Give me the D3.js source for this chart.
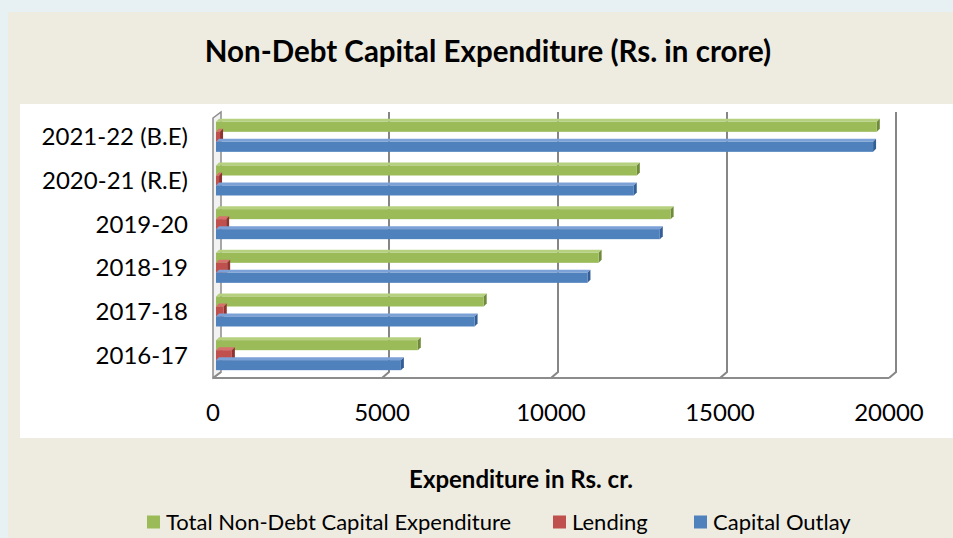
<html>
<head>
<script src="https://d3js.org/d3.v7.min.js"></script>
<style>
body { margin: 0; background: #e6f0f2; }
svg { display: block; font-family: Lato, "Open Sans", sans-serif; }
</style>
</head>
<body>
<div id="chart"></div>
<script>
// data (Rs. crore)
var years = ["2021-22 (B.E)", "2020-21 (R.E)", "2019-20", "2018-19", "2017-18", "2016-17"]
var totalExp = [19550, 12450, 13450, 11320, 7920, 5970]
var lending = [120, 90, 300, 330, 230, 470]
var capOutlay = [19440, 12360, 13130, 10990, 7650, 5470]
var xTicks = [0, 5000, 10000, 15000, 20000]

var seriesNames = ["Total Non-Debt Capital Expenditure", "Lending", "Capital Outlay"]
var seriesVals = [totalExp, lending, capOutlay]
var colors = ["#9bbb59", "#c0504d", "#4f81bd"]
var tops = ["#b5d07e", "#d6716e", "#7ba1d6"]
var sides = ["#6f8a3a", "#8f3330", "#345f96"]

var W = 953, H = 538
var depth = 3

var svg = d3.select("#chart").append("svg")
	.attr("width", W)
	.attr("height", H)

// page background and panels
svg.append("rect").attr("width", W).attr("height", H).attr("fill", "#e7f0f3")
svg.append("rect").attr("x", 8).attr("y", 12).attr("width", W - 8).attr("height", H - 12).attr("fill", "#eeece1")
svg.append("rect").attr("x", 20).attr("y", 104).attr("width", W - 20).attr("height", 334).attr("fill", "#fff")

var x = d3.scaleLinear().domain([0, 20000]).range([216, 892])
var y = d3.scaleBand().domain(years).range([115, 377])
var groupH = 30
var yIn = d3.scaleBand().domain(seriesNames)
	.range([(y.bandwidth() - groupH) / 2, (y.bandwidth() + groupH) / 2])

var backTop = 112, backBot = 372, floorY = 378

// left wall
svg.append("path")
	.attr("d", "M213," + floorY + " L213,118 L221," + backTop + " L221," + backBot + " Z")
	.attr("fill", "#f2f2f2")
	.attr("stroke", "#8c8c8c")
	.attr("stroke-width", 1.5)

// gridlines (back wall + slant to floor)
svg.append("g").selectAll("path")
	.data(xTicks.slice(1))
	.enter().append("path")
	.attr("d", function(d) {
		return "M" + (x(d) + 4) + "," + backTop + " L" + (x(d) + 4) + "," + backBot +
			" L" + (x(d) - 3) + "," + floorY
	})
	.attr("fill", "none")
	.attr("stroke", "#868686")
	.attr("stroke-width", 2)

// floor line
svg.append("path")
	.attr("d", "M" + (x(0) - 3) + "," + floorY + " L" + (x(20000) - 3) + "," + floorY +
		" M213," + floorY + " L221," + backBot)
	.attr("fill", "none")
	.attr("stroke", "#8c8c8c")
	.attr("stroke-width", 2)

// bars
var rows = svg.append("g").selectAll("g")
	.data(years)
	.enter().append("g")
	.attr("transform", function(d) { return "translate(0," + y(d) + ")" })

seriesNames.forEach(function(s, si) {
	var bh = yIn.bandwidth()
	rows.each(function(yr, i) {
		var v = seriesVals[si][i]
		var g = d3.select(this)
		var x0 = x(0), x1 = x(v), y0 = yIn(s)
		// top face
		g.append("path")
			.attr("d", "M" + x0 + "," + y0 + " L" + (x0 + depth) + "," + (y0 - depth) +
				" L" + (x1 + depth) + "," + (y0 - depth) + " L" + x1 + "," + y0 + " Z")
			.attr("fill", tops[si])
		// right face
		g.append("path")
			.attr("d", "M" + x1 + "," + y0 + " L" + (x1 + depth) + "," + (y0 - depth) +
				" L" + (x1 + depth) + "," + (y0 + bh - depth) + " L" + x1 + "," + (y0 + bh) + " Z")
			.attr("fill", sides[si])
		// front face
		g.append("rect")
			.attr("x", x0)
			.attr("y", y0)
			.attr("width", x1 - x0)
			.attr("height", bh)
			.attr("fill", colors[si])
	})
})

// category labels
svg.append("g").selectAll("text")
	.data(years)
	.enter().append("text")
	.attr("x", 188)
	.attr("y", function(d) { return y(d) + y.bandwidth() / 2 })
	.attr("dy", "0.35em")
	.attr("text-anchor", "end")
	.attr("font-size", 24)
	.attr("fill", "#000")
	.text(function(d) { return d })

// x tick labels
svg.append("g").selectAll("text")
	.data(xTicks)
	.enter().append("text")
	.attr("x", function(d) { return x(d) - 3 })
	.attr("y", 413)
	.attr("dy", "0.35em")
	.attr("text-anchor", "middle")
	.attr("font-size", 24)
	.text(function(d) { return d })

// title
svg.append("text")
	.attr("x", 488)
	.attr("y", 52)
	.attr("dy", "0.35em")
	.attr("text-anchor", "middle")
	.attr("font-weight", "bold")
	.attr("font-size", 29.5)
	.text("Non-Debt Capital Expenditure (Rs. in crore)")

// axis title
svg.append("text")
	.attr("x", 521)
	.attr("y", 480)
	.attr("dy", "0.35em")
	.attr("text-anchor", "middle")
	.attr("font-weight", "bold")
	.attr("font-size", 24)
	.text("Expenditure in Rs. cr.")

// legend
var legX = [147, 553, 694]
var leg = svg.append("g").selectAll("g")
	.data(seriesNames)
	.enter().append("g")
	.attr("transform", function(d, i) { return "translate(" + legX[i] + ",522)" })
leg.append("rect")
	.attr("x", 0).attr("y", -6.5)
	.attr("width", 13).attr("height", 13)
	.attr("fill", function(d, i) { return colors[i] })
leg.append("text")
	.attr("x", 19)
	.attr("dy", "0.35em")
	.attr("font-size", 22)
	.text(function(d) { return d })
</script>
</body>
</html>
